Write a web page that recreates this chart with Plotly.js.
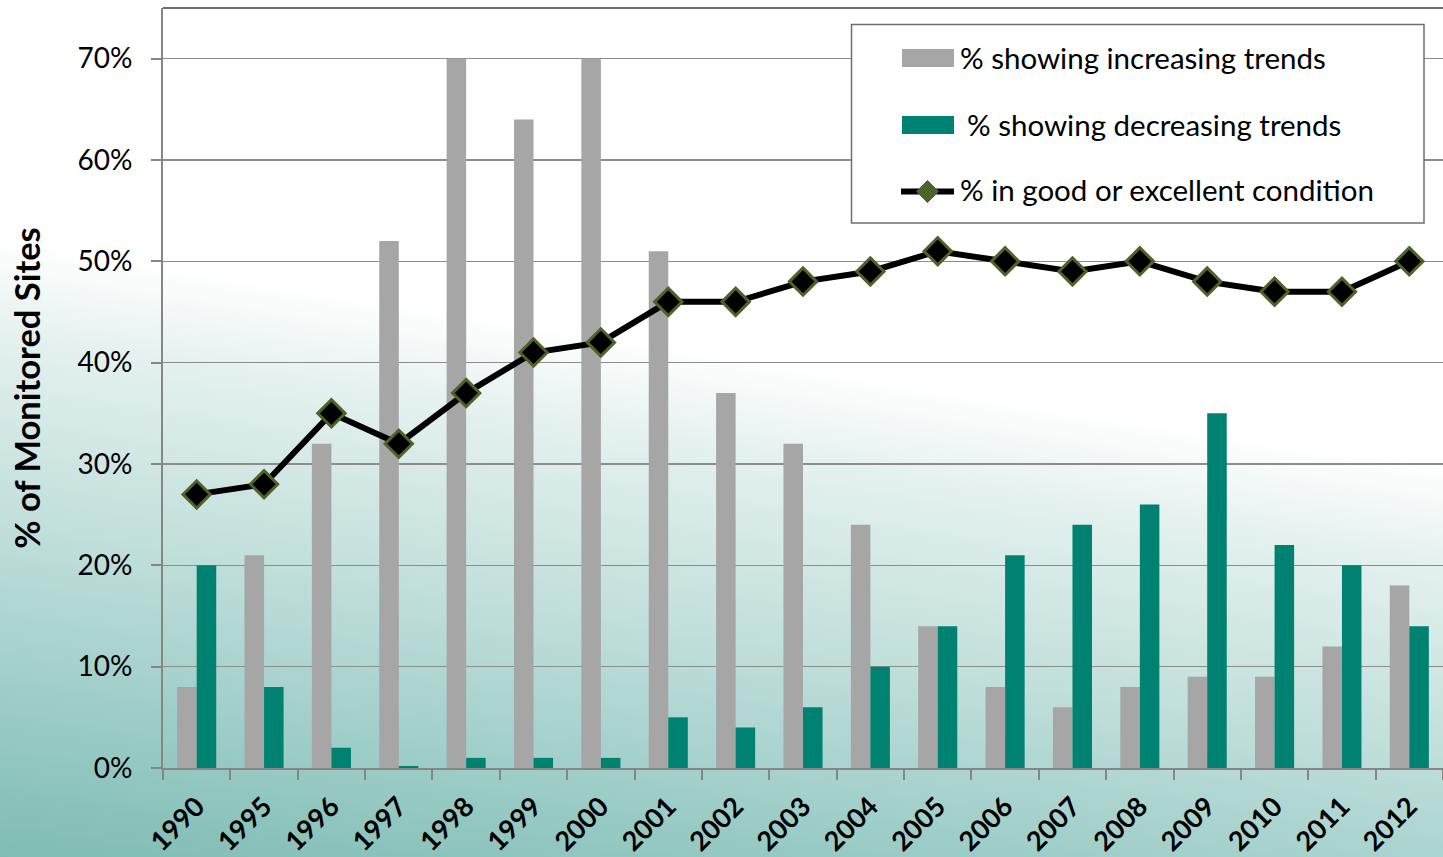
<!DOCTYPE html>
<html>
<head>
<meta charset="utf-8">
<script src="https://cdn.plot.ly/plotly-3.0.1.min.js"></script>
<style>
html,body{margin:0;padding:0;}
#chart{width:1443px;height:857px;background:linear-gradient(189deg,#ffffff 0%,#ffffff 43%,#e4f1ef 52%,#bfdeda 70%,#9dcdc7 85%,#7fbcb4 100%);}
</style>
</head>
<body>
<div id="chart"></div>
<script>
const years = ['1990','1995','1996','1997','1998','1999','2000','2001','2002','2003','2004','2005','2006','2007','2008','2009','2010','2011','2012'];
const increasing = [8,21,32,52,70,64,70,51,37,32,24,14,8,6,8,9,9,12,18];
const decreasing = [20,8,2,0.2,1,1,1,5,4,6,10,14,21,24,26,35,22,20,14];
const goodCondition = [27,28,35,32,37,41,42,46,46,48,49,51,50,49,50,48,47,47,50];
const yTicks = [0,10,20,30,40,50,60,70];
const yTickText = yTicks.map(v => v + '%');
const seriesNames = ['% showing increasing trends', '% showing decreasing trends', '% in good or excellent condition'];

const font = 'Lato, "Open Sans", sans-serif';
const grayColor = '#a6a6a6', tealColor = '#008272', olive = '#4f6228';

// pixel -> paper helpers (plot area 163..1443 x, 8..768 y)
const L = 163, R = 1443, T = 8, B = 768;
const px = x => (x - L) / (R - L);
const py = y => (B - y) / (B - T);

const traces = [
  {type:'bar', x:years, y:increasing, name:seriesNames[0], marker:{color:grayColor}},
  {type:'bar', x:years, y:decreasing, name:seriesNames[1], marker:{color:tealColor}},
  {type:'scatter', mode:'lines+markers', x:years, y:goodCondition, name:seriesNames[2],
   line:{color:'#000000', width:6},
   marker:{symbol:'diamond', size:21, color:'#000000', line:{color:olive, width:3}}}
];

const diamondPath = (cx, cy, w, h) =>
  'M' + px(cx - w) + ',' + py(cy) + ' L' + px(cx) + ',' + py(cy - h) +
  ' L' + px(cx + w) + ',' + py(cy) + ' L' + px(cx) + ',' + py(cy + h) + ' Z';

const shapes = [
  {type:'line', xref:'paper', yref:'paper', x0:0, x1:1, y0:1, y1:1, line:{color:'#404040', width:1.5}},
  // legend box
  {type:'rect', xref:'paper', yref:'paper', x0:px(851.5), x1:px(1424), y0:py(223), y1:py(24.5),
   fillcolor:'#ffffff', line:{color:'#6f6f6f', width:1.5}, layer:'above'},
  {type:'rect', xref:'paper', yref:'paper', x0:px(902), x1:px(954), y0:py(67), y1:py(49),
   fillcolor:grayColor, line:{width:0}, layer:'above'},
  {type:'rect', xref:'paper', yref:'paper', x0:px(902), x1:px(954), y0:py(134), y1:py(116),
   fillcolor:tealColor, line:{width:0}, layer:'above'},
  {type:'line', xref:'paper', yref:'paper', x0:px(901), x1:px(954), y0:py(191.5), y1:py(191.5),
   line:{color:'#000000', width:6}, layer:'above'},
  {type:'path', xref:'paper', yref:'paper', path:diamondPath(927.5, 191.5, 11, 11),
   fillcolor:olive, line:{color:olive, width:1}, layer:'above'}
];

const annotations = [
  {xref:'paper', yref:'paper', x:px(958), y:py(57), text:seriesNames[0]},
  {xref:'paper', yref:'paper', x:px(965), y:py(124), text:seriesNames[1]},
  {xref:'paper', yref:'paper', x:px(958), y:py(190), text:seriesNames[2]}
].map(a => Object.assign(a, {xanchor:'left', yanchor:'middle', showarrow:false,
  font:{size:29.5, family:font, color:'#000000'}}));

const layout = {
  width:1443, height:857,
  margin:{l:163, r:0, t:8, b:89},
  paper_bgcolor:'rgba(0,0,0,0)',
  plot_bgcolor:'rgba(0,0,0,0)',
  barmode:'group', bargap:0.42, bargroupgap:0,
  font:{family:font, color:'#000000'},
  showlegend:false,
  xaxis:{type:'category', range:[-0.5, 18.5], tickangle:-45,
    tickfont:{size:27, family:font, weight:'bold'}, ticklabelstandoff:10,
    showline:true, linecolor:'#868686', linewidth:2,
    ticks:'outside', tickson:'boundaries', ticklen:10, tickcolor:'#868686', tickwidth:2,
    showgrid:false, automargin:false},
  yaxis:{range:[0,75], tickvals:yTicks, ticktext:yTickText,
    tickfont:{size:28, family:font}, ticklabelstandoff:13,
    showline:true, linecolor:'#868686', linewidth:2,
    ticks:'outside', ticklen:10, tickcolor:'#868686', tickwidth:2,
    showgrid:true, gridcolor:'#8c8c8c', gridwidth:1.5, zeroline:false,
    automargin:false,
    title:{text:'% of Monitored Sites', font:{size:34.5, family:font, weight:'bold'}, standoff:26}},
  shapes:shapes,
  annotations:annotations
};

Plotly.newPlot('chart', traces, layout, {displayModeBar:false, staticPlot:true});
</script>
</body>
</html>
